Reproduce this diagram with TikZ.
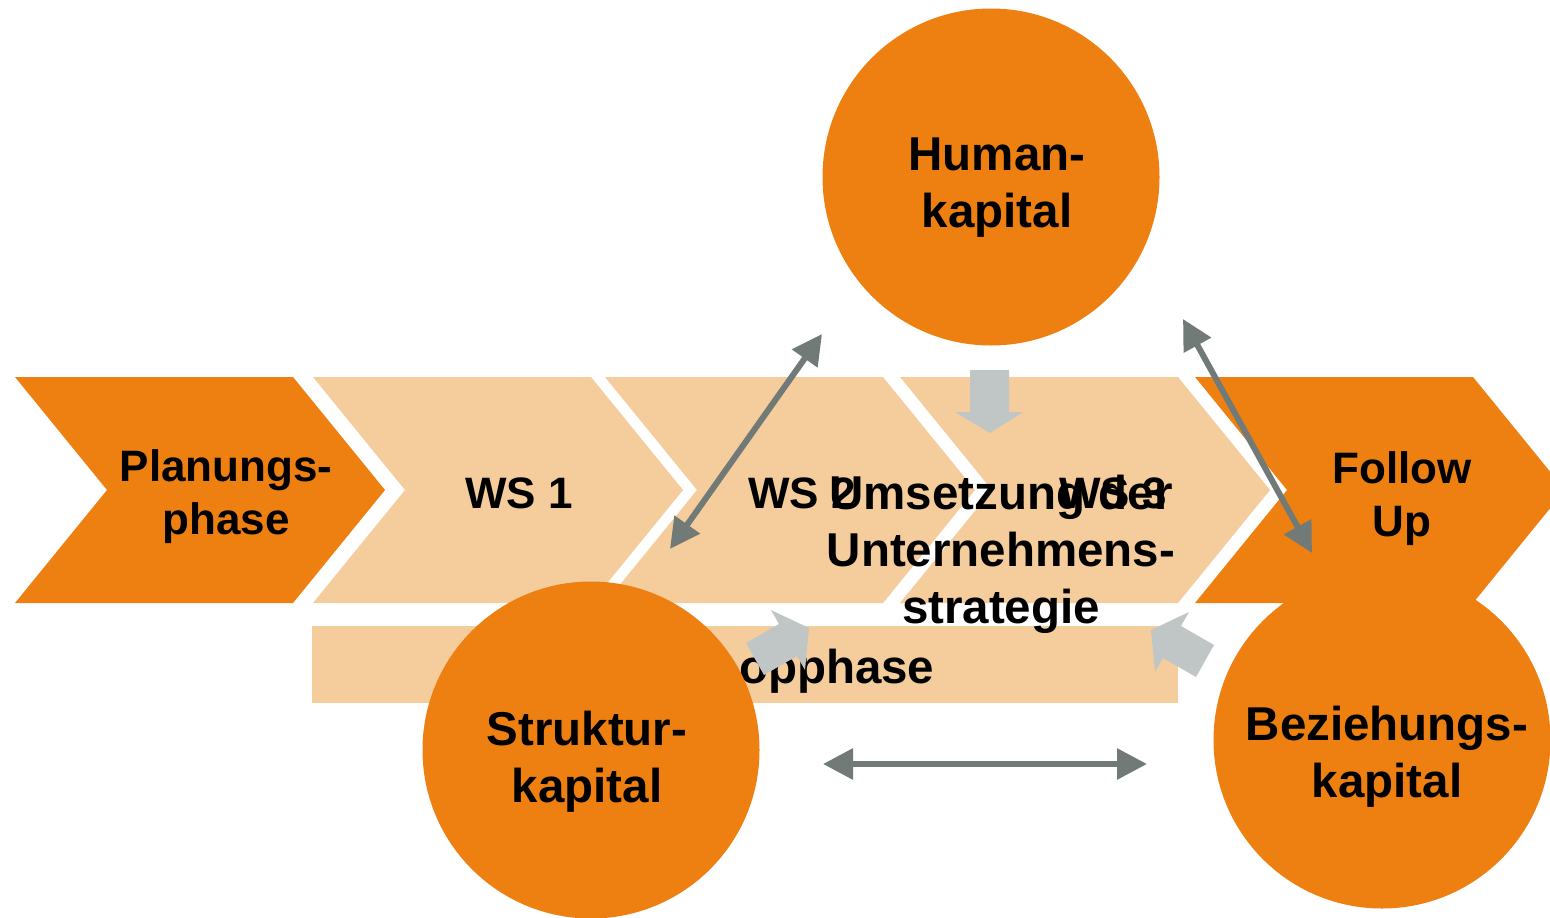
\documentclass[tikz,border=0pt]{standalone}
\usepackage{fontspec}
\setmainfont{Liberation Sans}
\usetikzlibrary{arrows.meta}
\definecolor{org}{HTML}{EE7F11}
\definecolor{lite}{HTML}{F5CD9C}
\definecolor{blk}{HTML}{C0C5C5}
\definecolor{dgrey}{HTML}{727A78}
\begin{document}
\begin{tikzpicture}[x=1pt,y=-1pt,
  chevron/.pic={\fill (0,0) -- (278,0) -- (370,113) -- (278,226) -- (0,226) -- (92,113) -- cycle;},
  chevtext/.style={font=\bfseries\fontsize{44}{53}\selectfont, align=center, inner sep=0pt},
  bigtext/.style={font=\bfseries\fontsize{47.5}{57}\selectfont, align=center, inner sep=0pt},
  kreis/.style={circle, fill=org, minimum size=337pt, inner sep=0pt},
  blockarrow/.style={fill=blk},
  dbl/.style={draw=dgrey, line width=6pt, {Triangle[length=30pt,width=30pt]}-{Triangle[length=30pt,width=30pt]}}]
\useasboundingbox (0,0) rectangle (1550,918);
% chevrons
\pic[fill=org]  at (15,377)   {chevron};
\pic[fill=lite] at (313,377)  {chevron};
\pic[fill=lite] at (605,377)  {chevron};
\pic[fill=lite] at (900,377)  {chevron};
\pic[fill=org]  at (1195,377) {chevron};
% workshop bar
\node[fill=lite, minimum width=866pt, minimum height=77pt, inner sep=0pt] (bar) at (745,664.5) {};
\node[bigtext, anchor=base] (bartext) at (750,683) {Workshopphase};
% circles
\node[kreis] (human) at (991,177) {};
\node[kreis] (struktur) at (591,750) {};
\node[kreis] (bez) at (1382,740) {};
\node[bigtext] (humant) at (997,187.5) {Human-\\kapital};
\node[bigtext] (struktt) at (587,762) {Struktur-\\kapital};
\node[bigtext] (bezt) at (1387,756.5) {Beziehungs-\\kapital};
% chevron texts
\node[chevtext] (plan) at (226,497) {Planungs-\\phase};
\node[chevtext, anchor=base] (ws1) at (519,508) {WS 1};
\node[chevtext, anchor=base] (ws2) at (802,508) {WS 2};
\node[chevtext, anchor=base] (ws3) at (1113,508) {WS 3};
\node[chevtext] (follow) at (1402,498.5) {Follow\\Up};
% block arrows
\fill[blockarrow] (970,370) -- (1009,370) -- (1009,412) -- (1023,412) -- (990,433) -- (955,412) -- (970,412) -- cycle;
\fill[blockarrow] (746,643) -- (779,624) -- (771,610) -- (809,628) -- (805,670) -- (797,656) -- (764,675) -- cycle;
\fill[blockarrow] (1214,645) -- (1181,626) -- (1189,612) -- (1151,630) -- (1155,672) -- (1163,658) -- (1196,677) -- cycle;
% double arrows
\coordinate (a1) at (822,334);
\coordinate (a2) at (670,549);
\coordinate (b1) at (1183,319);
\coordinate (b2) at (1312,553);
\coordinate (c1) at (823,764);
\coordinate (c2) at (1147,764);
\draw[dbl] (a1) -- (a2);
\draw[dbl] (b1) -- (b2);
\draw[dbl] (c1) -- (c2);
% centre text
\node[bigtext] (umsetzung) at (1001,554.5) {Umsetzung der\\Unternehmens-\\strategie};
\end{tikzpicture}
\end{document}
